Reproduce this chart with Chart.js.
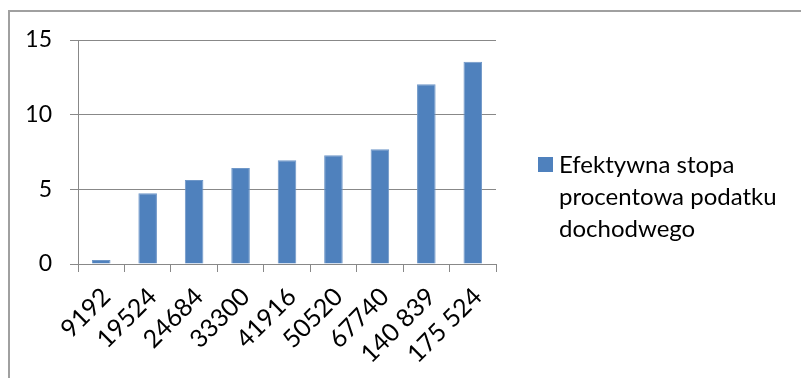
<!DOCTYPE html>
<html>
<head>
<meta charset="utf-8">
<script src="https://cdn.jsdelivr.net/npm/chart.js@4.4.1/dist/chart.umd.min.js"></script>
<style>
  html, body { margin: 0; padding: 0; background: #fff; overflow: hidden; }
  #wrap { position: relative; width: 801px; height: 378px; }
  #frame {
    position: absolute; left: 8px; top: 10px; width: 900px; height: 500px;
    border-left: 2px solid #a0a0a0; border-top: 2px solid #a0a0a0;
  }
  canvas { position: absolute; left: 0; top: 0; }
</style>
</head>
<body>
<div id="wrap">
  <div id="frame"></div>
  <canvas id="chart" width="801" height="378"></canvas>
</div>
<script>
const dochody = ['9192', '19524', '24684', '33300', '41916', '50520', '67740', '140 839', '175 524'];
const stopaPodatku = [0.27, 4.73, 5.63, 6.43, 6.94, 7.28, 7.68, 12.03, 13.55];
const osY = [0, 5, 10, 15];
const nazwaSerii = 'Efektywna stopa procentowa podatku dochodwego';

const FONT = 'Lato, "Open Sans", sans-serif';
const GRID = '#888888';

// legenda z zawijaniem tekstu po prawej stronie wykresu
const legendaPlugin = {
  id: 'legenda',
  afterDraw(chart) {
    const ctx = chart.ctx;
    const ds = chart.data.datasets[0];
    const x = 538, y = 157, box = 15, maxW = 240, lineH = 32;
    ctx.save();
    ctx.fillStyle = ds.backgroundColor;
    ctx.fillRect(x, y, box, box);
    ctx.font = '24px ' + FONT;
    ctx.fillStyle = '#000';
    ctx.textBaseline = 'alphabetic';
    const words = ds.label.split(' ');
    const lines = [];
    let line = '';
    words.forEach(w => {
      const test = line ? line + ' ' + w : w;
      if (ctx.measureText(test).width > maxW && line) {
        lines.push(line);
        line = w;
      } else {
        line = test;
      }
    });
    lines.push(line);
    lines.forEach((l, i) => ctx.fillText(l, x + 21, 173 + i * lineH));
    ctx.restore();
  }
};

new Chart(document.getElementById('chart').getContext('2d'), {
  type: 'bar',
  data: {
    labels: dochody,
    datasets: [{
      label: nazwaSerii,
      data: stopaPodatku,
      backgroundColor: '#4F81BD',
      borderColor: '#6f97c8',
      borderWidth: 1,
      categoryPercentage: 1,
      barPercentage: 0.4,
    }]
  },
  options: {
    responsive: false,
    animation: false,
    layout: { padding: { top: 40, right: 305, left: 0, bottom: 0 } },
    plugins: {
      legend: { display: false },
      tooltip: { enabled: false },
    },
    scales: {
      x: {
        offset: true,
        afterFit(scale) { scale.height = 114; },
        grid: {
          offset: true,
          drawOnChartArea: false,
          drawTicks: true,
          tickLength: 8,
          color: GRID,
        },
        border: { color: GRID, width: 1 },
        ticks: {
          color: '#000',
          font: { family: FONT, size: 25 },
          minRotation: 45,
          maxRotation: 45,
          autoSkip: false,
          padding: 10,
          labelOffset: 5,
        },
      },
      y: {
        min: osY[0],
        max: osY[osY.length - 1],
        afterFit(scale) { scale.width = 78; },
        afterBuildTicks(scale) { scale.ticks = osY.map(v => ({ value: v })); },
        grid: { color: GRID, tickLength: 8 },
        border: { color: GRID, width: 1 },
        ticks: {
          color: '#000',
          font: { family: FONT, size: 23 },
          padding: 18,
        },
      },
    },
  },
  plugins: [legendaPlugin],
});
</script>
</body>
</html>
